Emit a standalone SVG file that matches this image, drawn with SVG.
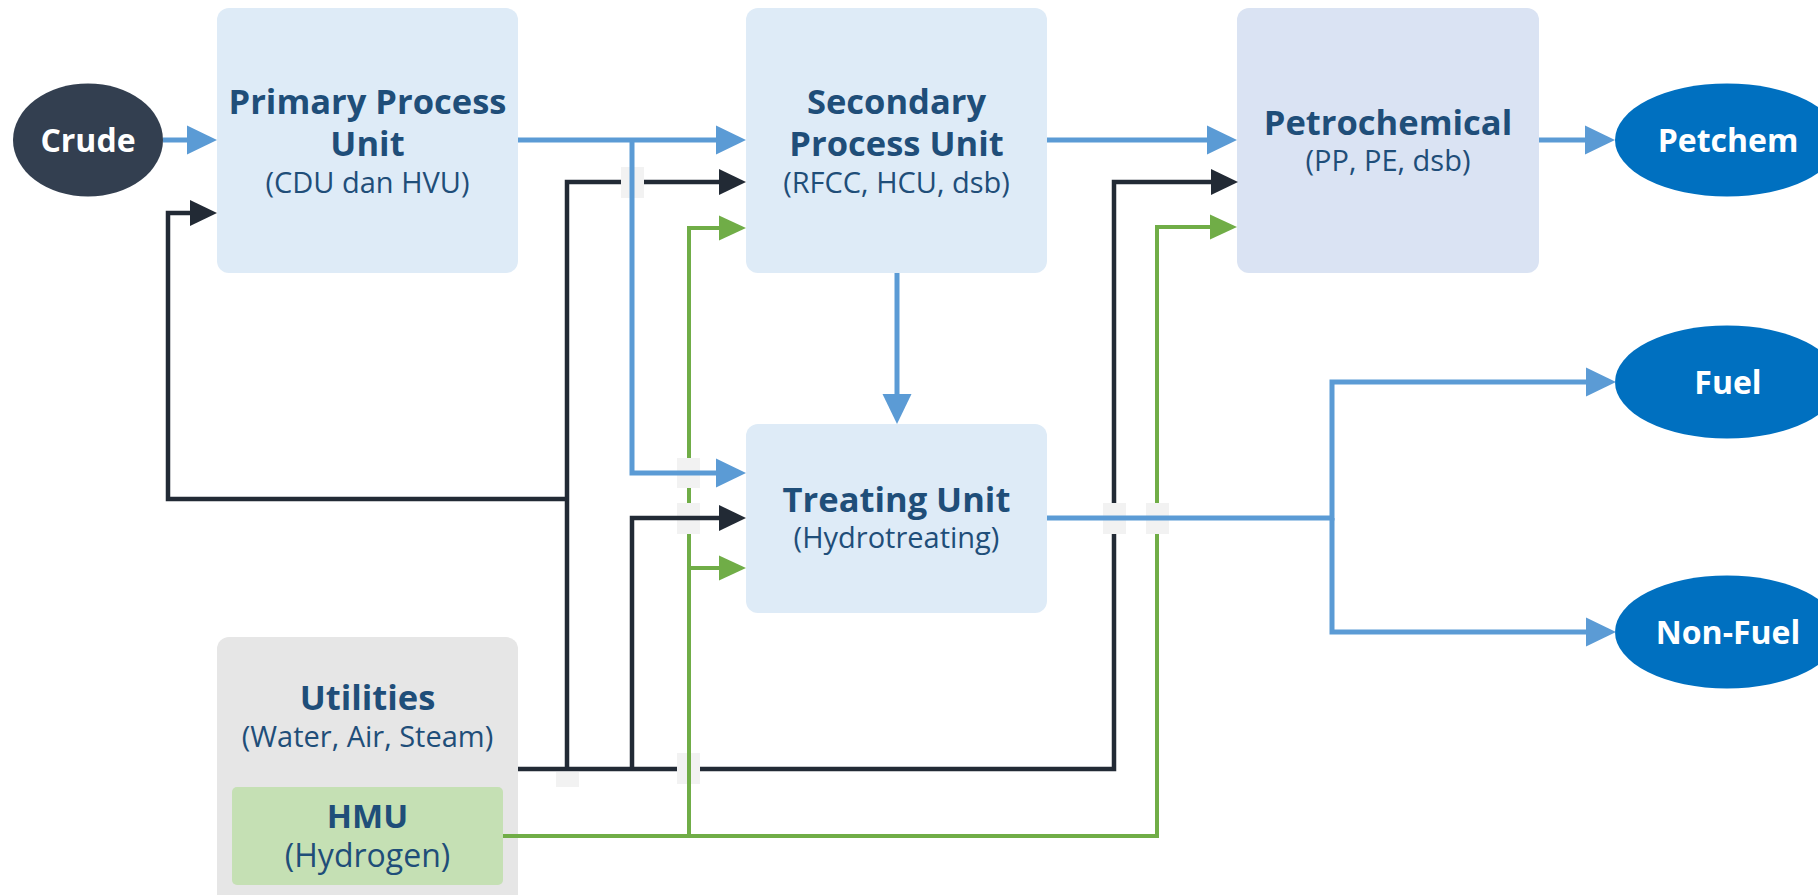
<svg xmlns="http://www.w3.org/2000/svg" width="1818" height="895" viewBox="0 0 1818 895">
<defs>
<style>
.box{fill:#deebf7}
.petro{fill:#dae3f3}
.t{font-family:"Open Sans","Noto Sans","DejaVu Sans",sans-serif;font-weight:700;font-size:34.5px;fill:#1f4e79;text-anchor:middle}
.s{font-family:"Open Sans","Noto Sans","DejaVu Sans",sans-serif;font-weight:400;font-size:29px;fill:#1f4e79;text-anchor:middle}
.w{font-family:"Open Sans","Noto Sans","DejaVu Sans",sans-serif;font-weight:700;font-size:32px;fill:#ffffff;text-anchor:middle}
.bl{fill:none;stroke:#5b9bd5;stroke-width:5}
.bk{fill:none;stroke:#222a35;stroke-width:4.5}
.gr{fill:none;stroke:#70ad47;stroke-width:4}
.gap{fill:#f2f2f2}
</style>
<marker id="aBlue" markerUnits="userSpaceOnUse" markerWidth="30" markerHeight="29" refX="0" refY="14.5" orient="auto" overflow="visible"><path d="M0,0 L30,14.5 L0,29 Z" fill="#5b9bd5"/></marker>
<marker id="aBlack" markerUnits="userSpaceOnUse" markerWidth="27" markerHeight="26" refX="0" refY="13" orient="auto" overflow="visible"><path d="M0,0 L27,13 L0,26 Z" fill="#222a35"/></marker>
<marker id="aGreen" markerUnits="userSpaceOnUse" markerWidth="27" markerHeight="25" refX="0" refY="12.5" orient="auto" overflow="visible"><path d="M0,0 L27,12.5 L0,25 Z" fill="#70ad47"/></marker>
</defs>
<rect width="1818" height="895" fill="#ffffff"/>

<g id="crude"><ellipse cx="88" cy="140" rx="75" ry="56.5" fill="#333f50"/><text class="w" x="88" y="152">Crude</text></g>
<g id="primary"><rect class="box" x="217" y="8" width="301" height="265" rx="12"/><text class="t" x="367.5" y="114">Primary Process</text><text class="t" x="367.5" y="156">Unit</text><text class="s" x="367.5" y="193">(CDU dan HVU)</text></g>
<g id="secondary"><rect class="box" x="746" y="8" width="301" height="265" rx="12"/><text class="t" x="896.5" y="114">Secondary</text><text class="t" x="896.5" y="156">Process Unit</text><text class="s" x="896.5" y="193">(RFCC, HCU, dsb)</text></g>
<g id="petrochemical"><rect class="petro" x="1237" y="8" width="302" height="265" rx="12"/><text class="t" x="1388" y="135">Petrochemical</text><text class="s" x="1388" y="171">(PP, PE, dsb)</text></g>
<g id="treating"><rect class="box" x="746" y="424" width="301" height="189" rx="12"/><text class="t" x="896.5" y="512">Treating Unit</text><text class="s" x="896.5" y="548">(Hydrotreating)</text></g>
<g id="utilities"><rect x="217" y="637" width="301" height="270" rx="12" fill="#e6e6e6"/><text class="t" x="367.5" y="710">Utilities</text><text class="s" x="367.5" y="747">(Water, Air, Steam)</text></g>
<g id="hmu"><rect x="232" y="787" width="271" height="98" rx="5" fill="#c5e0b4"/><text class="t" x="367.5" y="828" style="font-size:33px">HMU</text><text class="s" x="367.5" y="867" style="font-size:32px">(Hydrogen)</text></g>
<g id="petchem"><ellipse cx="1727" cy="140" rx="112" ry="56.5" fill="#0070c0"/><text class="w" x="1728" y="152">Petchem</text></g>
<g id="fuel"><ellipse cx="1727" cy="382" rx="112" ry="56.5" fill="#0070c0"/><text class="w" x="1728" y="394">Fuel</text></g>
<g id="nonfuel"><ellipse cx="1727" cy="632" rx="112" ry="56.5" fill="#0070c0"/><text class="w" x="1728" y="644">Non-Fuel</text></g>

<g id="connectors">
<rect class="gap" x="556" y="772" width="23" height="15"/>
<path class="bk" d="M518,769 H1114 V182 H1211" marker-end="url(#aBlack)"/>
<path class="bk" d="M567,769 V182 H719" marker-end="url(#aBlack)"/>
<path class="bk" d="M567,499 H168 V213 H190" marker-end="url(#aBlack)"/>
<rect class="gap" x="677" y="753" width="23" height="31"/>
<path class="gr" d="M503,836 H1157 V227 H1210" marker-end="url(#aGreen)"/>
<path class="gr" d="M689,836 V228 H719" marker-end="url(#aGreen)"/>
<path class="gr" d="M689,568 H719" marker-end="url(#aGreen)"/>
<rect class="gap" x="677" y="503" width="23" height="31"/>
<path class="bk" d="M632,769 V518 H719" marker-end="url(#aBlack)"/>
<rect class="gap" x="621" y="167" width="23" height="31"/>
<rect class="gap" x="677" y="458" width="23" height="30"/>
<rect class="gap" x="1103" y="503" width="23" height="31"/>
<rect class="gap" x="1146" y="503" width="23" height="31"/>
<path class="bl" d="M163,140 H187" marker-end="url(#aBlue)"/>
<path class="bl" d="M518,140 H716" marker-end="url(#aBlue)"/>
<path class="bl" d="M632,140 V473 H716" marker-end="url(#aBlue)"/>
<path class="bl" d="M1047,140 H1207" marker-end="url(#aBlue)"/>
<path class="bl" d="M1539,140 H1585" marker-end="url(#aBlue)"/>
<path class="bl" d="M897,273 V394" marker-end="url(#aBlue)"/>
<path class="bl" d="M1047,518 H1332 V382 H1586" marker-end="url(#aBlue)"/>
<path class="bl" d="M1332,518 V632 H1586" marker-end="url(#aBlue)"/>
</g>
</svg>
